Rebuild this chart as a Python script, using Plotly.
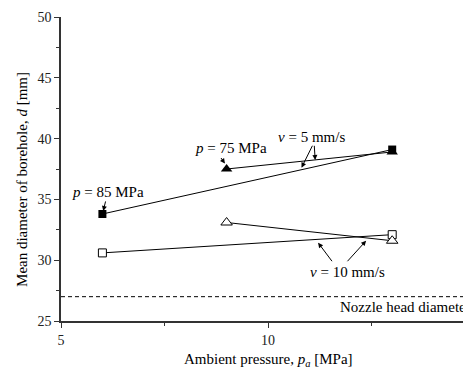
import plotly.graph_objects as go

# Data
pressure_85 = [6, 13]
pressure_75 = [9, 13]
d_v5_p85 = [33.8, 39.1]
d_v5_p75 = [37.5, 38.9]
d_v10_p85 = [30.6, 32.1]
d_v10_p75 = [33.1, 31.6]
nozzle_d = 27
x_ticks = [5, 10, 15]
y_ticks = [25, 30, 35, 40, 45, 50]

FONT = "Liberation Serif"
fig = go.Figure()

fig.add_trace(go.Scatter(x=[5, 15], y=[nozzle_d, nozzle_d], mode="lines",
                         line=dict(color="black", width=1, dash="4px,3px"), showlegend=False))
fig.add_trace(go.Scatter(x=pressure_75, y=d_v5_p75, mode="lines+markers",
                         line=dict(color="black", width=1),
                         marker=dict(symbol="triangle-up", size=10, color="black"), showlegend=False))
fig.add_trace(go.Scatter(x=pressure_85, y=d_v5_p85, mode="lines+markers",
                         line=dict(color="black", width=1),
                         marker=dict(symbol="square", size=8, color="black"), showlegend=False))
fig.add_trace(go.Scatter(x=pressure_85, y=d_v10_p85, mode="lines+markers",
                         line=dict(color="black", width=1),
                         marker=dict(symbol="square", size=8, color="white",
                                     line=dict(color="black", width=1)), showlegend=False))
fig.add_trace(go.Scatter(x=pressure_75, y=d_v10_p75, mode="lines+markers",
                         line=dict(color="black", width=1),
                         marker=dict(symbol="triangle-up", size=10, color="white",
                                     line=dict(color="black", width=1)), showlegend=False))

ann = []
def label(text, x, y, xanchor="center", size=15):
    ann.append(dict(text=text, x=x, y=y, xref="x", yref="y", showarrow=False,
                    xanchor=xanchor, yanchor="middle", font=dict(family=FONT, size=size, color="black")))

def arrow(x, y, ax, ay):
    ann.append(dict(text="", x=x, y=y, xref="x", yref="y", ax=ax, ay=ay, showarrow=True,
                    arrowhead=2, arrowsize=1, arrowwidth=1, arrowcolor="black"))

label("<i>p</i> = 85 MPa", 6.14, 35.63)
label("<i>p</i> = 75 MPa", 9.11, 39.23)
label("<i>v</i> = 5 mm/s", 11.04, 40.16)
label("<i>v</i> = 10 mm/s", 11.92, 29.05)
label("Nozzle head diameter", 11.70, 26.13, xanchor="left")

arrow(6.02, 34.05, 2.7, -11)
arrow(8.96, 37.95, -5, -7)
arrow(10.81, 37.61, 11.6, -23.4)
arrow(11.14, 38.24, -1, -15.7)
arrow(11.21, 31.44, 15, 20)
arrow(12.37, 31.6, -20, 22)

ann.append(dict(text="Ambient pressure, <i>p</i><sub><i>a</i></sub> [MPa]", x=10, y=-0.128,
                xref="x", yref="paper", showarrow=False, xanchor="center", yanchor="middle",
                font=dict(family=FONT, size=15, color="black")))
ann.append(dict(text="Mean diameter of borehole, <i>d</i> [mm]", x=-0.097, y=0.464,
                xref="paper", yref="paper", showarrow=False, textangle=-90,
                xanchor="center", yanchor="middle",
                font=dict(family=FONT, size=15, color="black")))

fig.update_layout(
    width=463, height=372,
    margin=dict(l=61, r=0, t=17, b=51),
    plot_bgcolor="white", paper_bgcolor="white",
    annotations=ann,
    xaxis=dict(range=[5, 14.71], tickvals=x_ticks, ticks="outside", ticklen=5, tickwidth=1,
               tickcolor="#333", showline=True, linecolor="#333", linewidth=1.5,
               showgrid=False, zeroline=False,
               minor=dict(dtick=2.5, tick0=5, ticks="outside", ticklen=3, tickcolor="#333", showgrid=False),
               tickfont=dict(family=FONT, size=14, color="#222")),
    yaxis=dict(range=[25, 50], tickvals=y_ticks, ticks="outside", ticklen=5, tickwidth=1,
               tickcolor="#333", showline=True, linecolor="#333", linewidth=1.5,
               showgrid=False, zeroline=False,
               minor=dict(dtick=2.5, tick0=25, ticks="outside", ticklen=3, tickcolor="#333", showgrid=False),
               tickfont=dict(family=FONT, size=14, color="#222")),
)

fig.write_html("out.html")
